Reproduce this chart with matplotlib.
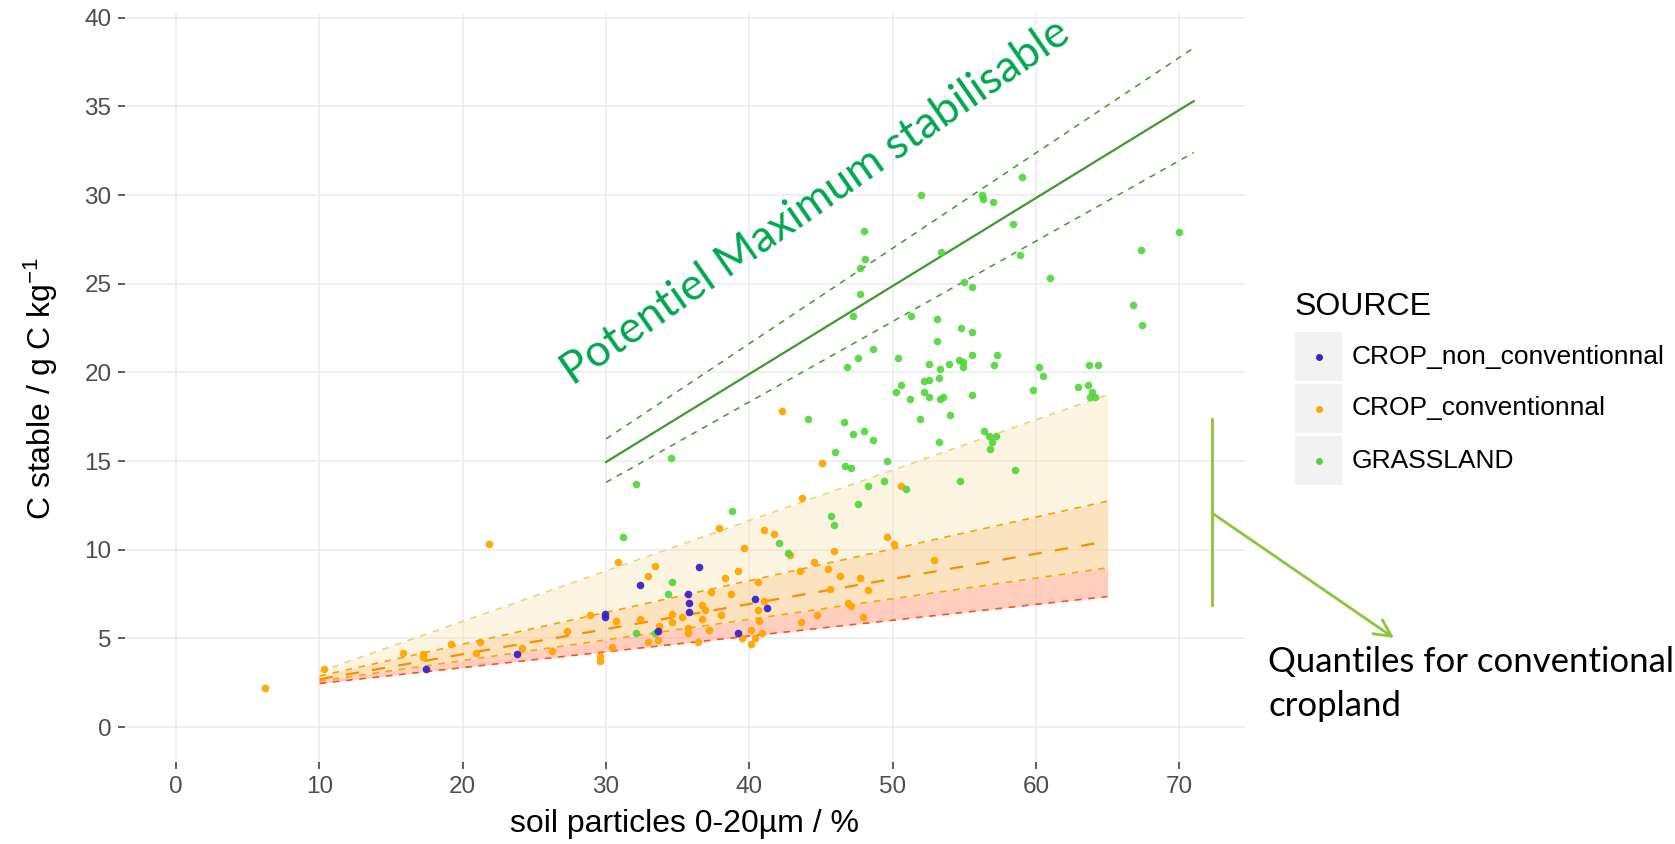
import matplotlib
matplotlib.use('Agg')
import matplotlib.pyplot as plt
from matplotlib.patches import Rectangle, FancyArrowPatch
from matplotlib.lines import Line2D

plt.rcParams['font.family'] = ['Liberation Sans', 'DejaVu Sans']
plt.rcParams['mathtext.fontset'] = 'custom'
plt.rcParams['mathtext.rm'] = 'Liberation Sans'
plt.rcParams['mathtext.it'] = 'Liberation Sans:italic'

# --- measured samples -------------------------------------------------------
crop_non_x = [17.4, 23.8, 29.9, 29.9, 32.4, 33.6, 35.7, 35.8, 35.8, 36.5, 39.2, 40.4, 41.2]
crop_non_y = [3.3, 4.1, 6.4, 6.2, 8.0, 5.4, 7.5, 7.0, 6.5, 9.0, 5.3, 7.2, 6.7]

crop_conv_x = [6.2, 10.3, 15.8, 17.2, 17.2, 19.2, 21.2, 20.9, 21.8, 24.1, 26.2, 27.3, 28.9,
               29.6, 29.6, 30.4, 30.7, 30.8, 32.4, 32.9, 32.9, 33.4, 33.6, 33.7, 34.6, 34.6,
               35.3, 35.7, 35.7, 36.4, 36.7, 36.9, 36.7, 37.2, 37.3, 37.9, 38.0, 38.3, 38.7,
               39.2, 39.5, 39.6, 40.1, 40.4, 40.1, 40.6, 40.6, 40.7, 40.9, 41.0, 41.0, 41.7,
               42.3, 42.8, 43.5, 43.6, 43.7, 44.5, 44.7, 45.1, 45.5, 45.6, 45.9, 46.3, 46.9,
               47.1, 47.7, 47.9, 48.3, 49.6, 50.1, 50.6, 52.9]
crop_conv_y = [2.2, 3.3, 4.15, 4.1, 3.95, 4.7, 4.8, 4.15, 10.3, 4.45, 4.3, 5.4, 6.3,
               4.0, 3.75, 4.5, 6.0, 9.3, 6.1, 8.5, 4.8, 9.1, 4.9, 5.7, 6.4, 5.9,
               6.2, 5.6, 5.3, 4.8, 6.9, 6.6, 6.1, 5.5, 7.6, 11.2, 6.3, 8.4, 7.5,
               8.8, 5.0, 10.1, 5.5, 5.0, 4.7, 8.2, 6.6, 6.0, 5.3, 7.1, 11.1, 10.9,
               17.8, 9.7, 8.8, 5.9, 12.9, 9.3, 6.3, 14.9, 8.9, 7.8, 9.9, 8.5, 7.0,
               6.8, 8.4, 6.2, 7.7, 10.7, 10.3, 13.6, 9.4]

grass_x = [52.0, 59.0, 56.2, 56.3, 57.0, 58.4, 48.0, 48.05, 47.7, 53.4, 58.9, 47.7, 47.2,
           55.0, 55.5, 61.0, 51.3, 53.1, 48.6, 47.6, 46.8, 53.1, 54.8, 55.5, 50.4, 52.5,
           53.3, 53.9, 54.6, 54.9, 54.9, 55.5, 57.1, 57.3, 60.2, 60.5, 63.7, 64.3, 63.6,
           62.9, 59.8, 63.9, 63.8, 64.1, 50.6, 50.2, 52.2, 52.5, 53.2, 52.2, 52.5, 51.2,
           53.3, 53.5, 55.5, 51.9, 54.0, 46.6, 47.2, 48.0, 48.6, 53.2, 56.4, 56.7, 57.2,
           56.9, 56.8, 58.5, 54.7, 44.1, 46.0, 46.7, 47.1, 49.6, 48.3, 49.4, 50.9, 47.6,
           45.7, 45.9, 42.1, 42.7, 66.8, 67.4, 67.3, 70.0, 34.5, 32.1, 31.2, 38.8, 34.6,
           34.3, 32.1, 33.4]
grass_y = [30.0, 31.0, 30.0, 29.8, 29.6, 28.4, 28.0, 26.4, 25.9, 26.8, 26.6, 24.4, 23.2,
           25.1, 24.8, 25.3, 23.2, 23.0, 21.3, 20.8, 20.3, 21.8, 22.5, 22.3, 20.8, 20.5,
           20.2, 20.5, 20.7, 20.6, 20.3, 21.0, 20.4, 21.0, 20.3, 19.8, 20.4, 20.4, 19.3,
           19.2, 19.0, 18.9, 18.6, 18.6, 19.3, 18.9, 19.5, 19.6, 19.7, 18.9, 18.6, 18.5,
           18.5, 18.6, 18.7, 17.4, 17.6, 17.2, 16.5, 16.7, 16.2, 16.1, 16.7, 16.4, 16.4,
           16.1, 15.7, 14.5, 13.9, 17.4, 15.5, 14.7, 14.6, 15.0, 13.6, 13.9, 13.4, 12.6,
           11.9, 11.4, 10.4, 9.8, 23.8, 22.7, 26.9, 27.9, 15.2, 13.7, 10.7, 12.2, 8.2,
           7.5, 5.3, 5.3]

# quantile fits for conventional cropland, evaluated at both ends
quant_x = [10, 65]
q_top = [3.12, 18.75]
q_upper = [2.88, 12.74]
q_mid = [2.69, 10.48]
q_lower = [2.59, 8.98]
q_bottom = [2.46, 7.36]

# maximum stabilisable carbon line and its envelope
pot_x = [30, 71]
pot_mid = [14.95, 35.3]
pot_hi = [16.25, 38.3]
pot_lo = [13.8, 32.4]

sources = ['CROP_non_conventionnal', 'CROP_conventionnal', 'GRASSLAND']
colors = ['#3A22CC', '#FFA500', '#50D43A']

# --- figure -------------------------------------------------------------------
W, H = 1675, 844
fig = plt.figure(figsize=(W / 100, H / 100), dpi=100)
ax = fig.add_axes([0.0748, 0.0966, 0.6682, 0.8875])

ax.set_xlim(-3.55, 74.55)
ax.set_ylim(-2, 40.25)
ax.set_xticks(range(0, 71, 10))
ax.set_yticks(range(0, 41, 5))
ax.grid(color='#EBEBEB', linewidth=1.1)
ax.set_axisbelow(True)
for s in ax.spines.values():
    s.set_visible(False)
ax.tick_params(length=5, width=1.1, color='#333333', labelcolor='#4D4D4D',
               labelsize=17.5, pad=5)

# quantile bands
ax.fill_between(quant_x, q_upper, q_top, color='#F0DC9A', alpha=0.3, lw=0)
ax.fill_between(quant_x, q_lower, q_upper, color='#FBC880', alpha=0.5, lw=0)
ax.fill_between(quant_x, q_bottom, q_lower, color='#FF9F80', alpha=0.5, lw=0)
ax.plot(quant_x, q_top, color='#EFD27F', lw=1.2, dashes=(4, 4))
ax.plot(quant_x, q_upper, color='#FFA000', lw=1.2, dashes=(4, 4))
ax.plot(quant_x, q_mid, color='#FF8C00', lw=1.6, dashes=(6, 6))
ax.plot(quant_x, q_lower, color='#FFA500', lw=1.2, dashes=(4, 4))
ax.plot(quant_x, q_bottom, color='#FF5020', lw=1.2, dashes=(4, 4))

ax.plot(pot_x, pot_mid, color='#3C9B2A', lw=1.6)
ax.plot(pot_x, pot_hi, color='#3C9B2A', lw=1.1, dashes=(4, 4))
ax.plot(pot_x, pot_lo, color='#3C9B2A', lw=1.1, dashes=(4, 4))

ax.scatter(crop_conv_x, crop_conv_y, s=30, color=colors[1], alpha=0.95, lw=0, zorder=3)
ax.scatter(grass_x, grass_y, s=30, color=colors[2], alpha=0.9, lw=0, zorder=3)
ax.scatter(crop_non_x, crop_non_y, s=30, color=colors[0], alpha=0.95, lw=0, zorder=3)

ax.text(44.6, 29.6, 'Potentiel Maximum stabilisable', family='Lato', fontsize=32,
        color='#00A651', rotation=34.8, rotation_mode='anchor',
        ha='center', va='center')

ax.set_xlabel('soil particles 0-20µm / %', fontsize=23, va='center')
ax.xaxis.set_label_coords(0.5, -0.082)
ax.set_ylabel('C stable / g C kg$^{-1}$', fontsize=23, va='center')
ax.yaxis.set_label_coords(-0.0757, 0.5)


def fx(px):
    return px / W


def fy(py):
    return 1 - py / H


# legend
fig.text(fx(1295), fy(307), 'SOURCE', fontsize=23, va='center', ha='left')
key_tops = [332, 384, 436]
for top, name, col in zip(key_tops, sources, colors):
    fig.add_artist(Rectangle((fx(1295), fy(top + 49)), 47 / W, 49 / H,
                             transform=fig.transFigure, color='#F2F2F2', lw=0))
    fig.add_artist(Line2D([fx(1319)], [fy(top + 24.5)], marker='o', markersize=5,
                          color=col, markeredgewidth=0, transform=fig.transFigure))
    fig.text(fx(1352), fy(top + 24.5), name, fontsize=19, va='center', ha='left')

# bracket and arrow pointing at the quantile note
bracket = '#8CC43C'
fig.add_artist(Line2D([fx(1212), fx(1212)], [fy(419), fy(605)], color=bracket,
                      lw=2, transform=fig.transFigure))
fig.add_artist(FancyArrowPatch((fx(1212), fy(513)), (fx(1394), fy(638)),
                               transform=fig.transFigure, color=bracket, lw=2,
                               arrowstyle='->,head_length=12,head_width=6',
                               mutation_scale=1, shrinkA=0, shrinkB=0))
fig.text(fx(1268), fy(716), 'Quantiles for conventional\ncropland', family='Lato',
         fontsize=25, va='baseline', ha='left', linespacing=1.45)

fig.savefig('out.png', dpi=100)
